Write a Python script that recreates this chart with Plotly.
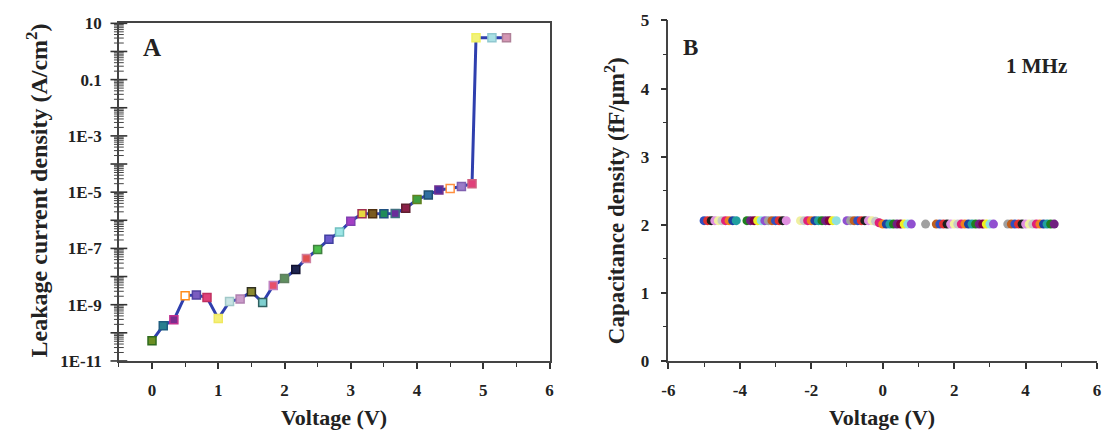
import plotly.graph_objects as go

# ---------------- Data ----------------
# Panel A: leakage current density vs voltage
volt_a = [0.0, 0.17, 0.33, 0.5, 0.67, 0.83, 1.0, 1.17, 1.33, 1.5, 1.67, 1.83,
          2.0, 2.17, 2.33, 2.5, 2.67, 2.83, 3.0, 3.17, 3.33, 3.5, 3.67, 3.83,
          4.0, 4.17, 4.33, 4.5, 4.67, 4.83, 4.89, 5.13, 5.35]
leak_a = [5.2e-11, 1.8e-10, 2.9e-10, 2.1e-9, 2.2e-9, 1.8e-9, 3.2e-10, 1.3e-9,
          1.6e-9, 2.9e-9, 1.2e-9, 4.8e-9, 8.5e-9, 1.8e-8, 4.4e-8, 9.2e-8,
          2.1e-7, 3.8e-7, 9.3e-7, 1.7e-6, 1.7e-6, 1.7e-6, 1.75e-6, 2.7e-6,
          5.5e-6, 8.0e-6, 1.2e-5, 1.35e-5, 1.6e-5, 2.0e-5, 3.1, 3.1, 3.1]

# Panel B: capacitance density vs voltage (1 MHz)
volt_b = [-5.0, -4.9, -4.8, -4.7, -4.6, -4.5, -4.4, -4.3, -4.2, -4.1,
          -3.8, -3.7, -3.6, -3.5, -3.4, -3.3, -3.2, -3.1, -3.0, -2.9, -2.8, -2.7,
          -2.3, -2.2, -2.1, -2.0, -1.9, -1.8, -1.7, -1.6, -1.5, -1.4, -1.3,
          -1.0, -0.9, -0.8, -0.7, -0.6, -0.5, -0.4, -0.3, -0.2, -0.1,
          0.0, 0.1, 0.2, 0.3, 0.4, 0.5, 0.6, 0.7, 0.8,
          1.2,
          1.5, 1.6, 1.7, 1.8, 1.9, 2.0, 2.1, 2.2, 2.3, 2.4, 2.5, 2.6, 2.7, 2.8, 2.9, 3.0, 3.1,
          3.5, 3.6, 3.7, 3.8, 3.9, 4.0, 4.1, 4.2, 4.3, 4.4, 4.5, 4.6, 4.7, 4.8]
cap_b = [2.06, 2.06, 2.06, 2.06, 2.06, 2.06, 2.06, 2.06, 2.06, 2.06,
         2.06, 2.06, 2.06, 2.06, 2.06, 2.06, 2.06, 2.06, 2.06, 2.06, 2.06, 2.06,
         2.06, 2.06, 2.06, 2.06, 2.06, 2.06, 2.06, 2.06, 2.06, 2.06, 2.06,
         2.06, 2.06, 2.06, 2.06, 2.06, 2.06, 2.06, 2.06, 2.05, 2.03,
         2.01, 2.01, 2.01, 2.01, 2.01, 2.01, 2.01, 2.01, 2.01,
         2.01,
         2.01, 2.01, 2.01, 2.01, 2.01, 2.01, 2.01, 2.01, 2.01, 2.01, 2.01, 2.01, 2.01, 2.01, 2.01, 2.01, 2.01,
         2.01, 2.01, 2.01, 2.01, 2.01, 2.01, 2.01, 2.01, 2.01, 2.01, 2.01, 2.01, 2.01, 2.01]

a_ticks = [1e-11, 1e-9, 1e-7, 1e-5, 1e-3, 1e-1, 10]
a_ticktext = ["1E-11", "1E-9", "1E-7", "1E-5", "1E-3", "0.1", "10"]
a_xticks = [0, 1, 2, 3, 4, 5, 6]
a_xrange = [-0.5, 6]
b_xticks = [-6, -4, -2, 0, 2, 4, 6]
b_xticktext = ["-6", "-4", "-2", "0", "2", "4", "6"]
b_yticks = [0, 1, 2, 3, 4, 5]

# tick positions on the log axis
a_minor = []
a_decades = []
for e in range(-11, 1):
    a_decades.append(10.0 ** e)
    for m in range(2, 10):
        a_minor.append(m * 10.0 ** e)
a_decades.append(10.0)

# ---------------- Styles ----------------
a_fill = ["#6b8e23", "#2a7f8f", "#7b2d8e", "#ffffff", "#7a5cc0", "#e0407a", "#f5f07a",
          "#c8e4e4", "#c99ac9", "#8a8a30", "#7fd0d0", "#e8506a", "#5f8f5f", "#1e2450",
          "#e05050", "#4cbf4c", "#6a5acd", "#9ee6e6", "#a43fc4", "#e6d840", "#7a5a20",
          "#1f8a5a", "#6a2c9a", "#8b2048", "#3fa040", "#2f6fa0", "#4a2fa0", "#ffffff",
          "#9a7cc8", "#e0407a", "#f2f27a", "#a8e0e4", "#d496b4"]
a_edge = ["#2e6b1e", "#1f5e80", "#c03090", "#ff8c1a", "#5040a0", "#c03060", "#f0e860",
          "#a0c8c8", "#b080b0", "#303020", "#306060", "#c080c0", "#608060", "#101030",
          "#d080a0", "#408040", "#4040a0", "#70c0c0", "#8040b0", "#a03050", "#503010",
          "#205080", "#407080", "#602030", "#608020", "#205070", "#703090", "#ff9040",
          "#8060b0", "#d06080", "#f0f060", "#90c8d0", "#b08098"]
b_cycle = ["#3050c0", "#e03030", "#202020", "#e090e0", "#f0f0a0", "#c8c8c8",
           "#e0207a", "#f08020", "#2040a0", "#20a0a0", "#208020", "#702080",
           "#800040", "#f0f020", "#90e0e0", "#9050d0", "#a0a0a0", "#c06020"]
b_colors = [b_cycle[i % len(b_cycle)] for i in range(len(volt_b))]

SERIF = "Liberation Serif"
W, H = 1108, 436

def px_x(p):
    return p / W

def px_y(p):
    return 1 - p / H

fig = go.Figure()

# tick marks of the log axis drawn as short horizontal line markers on the left edge
fig.add_trace(go.Scatter(
    x=[a_xrange[0]] * len(a_minor), y=a_minor, mode="markers", cliponaxis=False,
    marker=dict(symbol="line-ew", size=7, line=dict(color="#444", width=1)),
    xaxis="x", yaxis="y", showlegend=False, hoverinfo="skip"))
fig.add_trace(go.Scatter(
    x=[a_xrange[0]] * len(a_decades), y=a_decades, mode="markers", cliponaxis=False,
    marker=dict(symbol="line-ew", size=12, line=dict(color="#333", width=1.6)),
    xaxis="x", yaxis="y", showlegend=False, hoverinfo="skip"))

fig.add_trace(go.Scatter(
    x=volt_a, y=leak_a, mode="lines+markers",
    line=dict(color="#2f3fae", width=3),
    marker=dict(symbol="square", size=8, color=a_fill,
                line=dict(color=a_edge, width=1.5)),
    xaxis="x", yaxis="y", showlegend=False))

fig.add_trace(go.Scatter(
    x=volt_b, y=cap_b, mode="markers",
    marker=dict(symbol="circle", size=9, color=b_colors, line=dict(width=0)),
    xaxis="x2", yaxis="y2", showlegend=False))

tickfont = dict(family=SERIF, size=17, color="#222", weight="bold")

fig.update_layout(
    width=W, height=H,
    margin=dict(l=0, r=0, t=0, b=0),
    paper_bgcolor="white", plot_bgcolor="white",
    xaxis=dict(domain=[px_x(113), px_x(548)], range=a_xrange, anchor="y",
               tickvals=a_xticks, ticks="outside", ticklen=6,
               tickwidth=1.5, tickcolor="#333", showgrid=False, zeroline=False,
               showline=True, linecolor="#444", linewidth=1.5, mirror=True,
               tickfont=tickfont, ticklabelstandoff=7,
               minor=dict(tickvals=[-0.5, 0.5, 1.5, 2.5, 3.5, 4.5, 5.5], ticks="outside",
                          ticklen=4, tickcolor="#333", tickwidth=1)),
    yaxis=dict(domain=[px_y(368), px_y(15)], type="log", range=[-11, 1], anchor="x",
               tickvals=a_ticks, ticktext=a_ticktext, ticks="", showgrid=False,
               zeroline=False, showline=True, linecolor="#444", linewidth=1.5,
               mirror=True, tickfont=tickfont, ticklabelstandoff=12),
    xaxis2=dict(domain=[px_x(668), px_x(1101)], range=[-6, 6], anchor="y2",
                tickvals=b_xticks, ticktext=b_xticktext, ticks="outside", ticklen=6,
                tickwidth=1.5, tickcolor="#333", showgrid=False, zeroline=False,
                showline=True, linecolor="#444", linewidth=1.5, mirror=False,
                tickfont=tickfont, ticklabelstandoff=7,
                minor=dict(tickvals=[-5, -3, -1, 1, 3, 5], ticks="outside",
                           ticklen=4, tickcolor="#333", tickwidth=1)),
    yaxis2=dict(domain=[px_y(368), px_y(12)], range=[0, 5], anchor="x2",
                tickvals=b_yticks, ticks="outside", ticklen=6,
                tickwidth=1.5, tickcolor="#333", showgrid=False, zeroline=False,
                showline=True, linecolor="#444", linewidth=1.5, mirror=False,
                tickfont=tickfont, ticklabelstandoff=8,
                minor=dict(tickvals=[0.5, 1.5, 2.5, 3.5, 4.5], ticks="outside",
                           ticklen=4, tickcolor="#333", tickwidth=1)),
)

ann_font = dict(family=SERIF, color="#222", weight="bold")
annotations = [
    dict(text="Voltage (V)", x=px_x(330), y=px_y(427), font=dict(size=22, **ann_font)),
    dict(text="Voltage (V)", x=px_x(884), y=px_y(427), font=dict(size=22, **ann_font)),
    dict(text="Leakage current density (A/cm<sup>2</sup>)", x=px_x(30), y=px_y(190),
         textangle=-90, font=dict(size=24, **ann_font)),
    dict(text="Capacitance density (fF/\u03bcm<sup>2</sup>)", x=px_x(614), y=px_y(200),
         textangle=-90, font=dict(size=23, **ann_font)),
    dict(text="A", x=px_x(146), y=px_y(40), font=dict(size=25, **ann_font)),
    dict(text="B", x=px_x(690), y=px_y(40), font=dict(size=23, **ann_font)),
    dict(text="1 MHz", x=px_x(1040), y=px_y(60), font=dict(size=21, **ann_font)),
]
for a in annotations:
    fig.add_annotation(xref="paper", yref="paper", showarrow=False,
                       xanchor="center", yanchor="middle", **a)

fig.write_html("out.html")
